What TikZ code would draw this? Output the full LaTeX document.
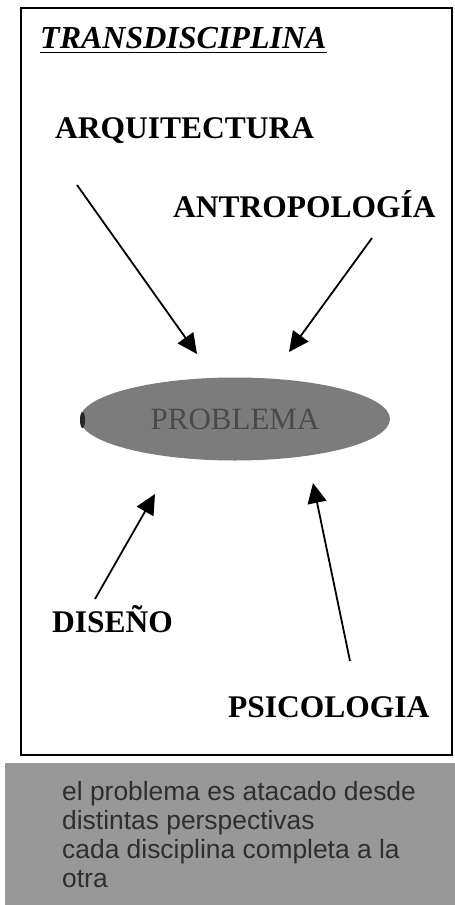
\documentclass[tikz,border=0pt]{standalone}
\usepackage{fontspec}
\setmainfont{Liberation Serif}
\newfontfamily\capsans{Liberation Sans}
\usetikzlibrary{arrows.meta,shapes.geometric}
\definecolor{ellgray}{HTML}{7C7C7C}
\definecolor{elltext}{HTML}{4A4A4A}
\definecolor{notegray}{HTML}{989898}
\definecolor{notetext}{HTML}{2E2E2E}
\tikzset{
  discipline/.style={font=\bfseries\fontsize{31.5}{38}\selectfont, inner sep=0pt, anchor=base west},
  notetxt/.style={font=\capsans\fontsize{26.4}{29}\selectfont, text=notetext, inner sep=0pt, anchor=base west},
  flow/.style={line width=1.8pt, -{Triangle[length=20pt,width=19pt]}},
}
\begin{document}
\begin{tikzpicture}[x=1pt,y=-1pt]
\useasboundingbox (0,0) rectangle (455,905);
% frame
\draw[line width=1.4pt] (21,8) rectangle (452,755);
% note box
\fill[notegray] (5,763) rectangle (455,905);
% title
\node[font=\bfseries\itshape\fontsize{32}{38}\selectfont, inner sep=0pt, anchor=base west] (title) at (40,48) {TRANSDISCIPLINA};
\draw[line width=1.8pt] ([yshift=-4.5pt]title.base west) -- ([yshift=-4.5pt]title.base east);
% labels
\node[discipline] (arq) at (55,138) {ARQUITECTURA};
\node[discipline] (ant) at (173,217) {ANTROPOLOGÍA};
\node[discipline] (dis) at (52,632) {DISEÑO};
\node[discipline] (psi) at (228,717) {PSICOLOGIA};
% problem ellipse
\node[ellipse, fill=ellgray, minimum width=310pt, minimum height=83pt, inner sep=0pt,
      font=\fontsize{31}{36}\selectfont, text=elltext] (prob) at (235,419) {PROBLEMA};
\fill[black!85] (82.5,420) ellipse (2.5pt and 8pt);
% arrow ends
\coordinate (a1) at (77,185);   \coordinate (a1t) at (197,354);
\coordinate (a2) at (372,238);  \coordinate (a2t) at (289,352);
\coordinate (a3) at (95,599);   \coordinate (a3t) at (155,494);
\coordinate (a4) at (350,661);  \coordinate (a4t) at (313,483);
\draw[flow] (a1) -- (a1t);
\draw[flow] (a2) -- (a2t);
\draw[flow] (a3) -- (a3t);
\draw[flow] (a4) -- (a4t);
% note text
\node[notetxt] (n1) at (62,800) {el problema es atacado desde};
\node[notetxt] (n2) at (62,829) {distintas perspectivas};
\node[notetxt] (n3) at (62,858) {cada disciplina completa a la};
\node[notetxt] (n4) at (62,887) {otra};
\end{tikzpicture}
\end{document}
